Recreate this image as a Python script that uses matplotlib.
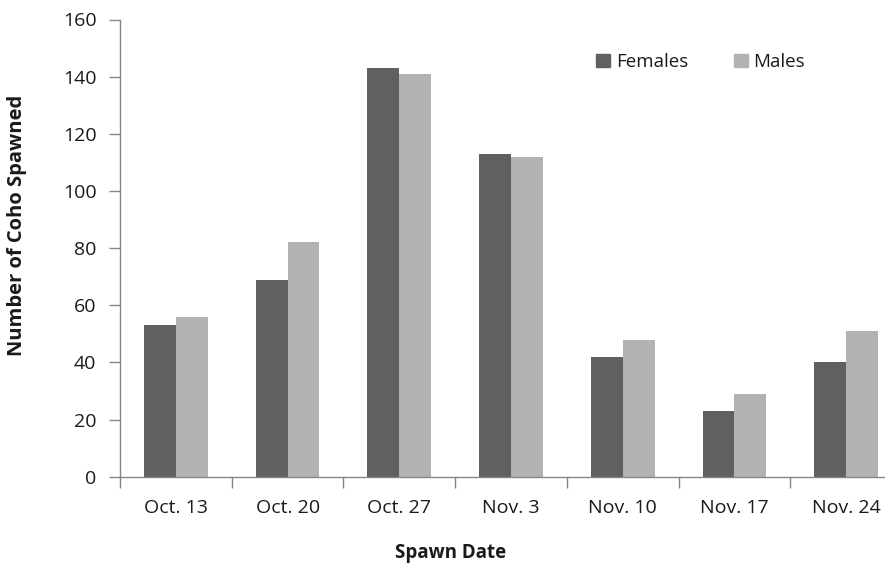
import numpy as np
import matplotlib.pyplot as plt
from matplotlib.patches import Patch

# Coho spawned per date, by sex
dates = ['Oct. 13', 'Oct. 20', 'Oct. 27', 'Nov. 3', 'Nov. 10', 'Nov. 17', 'Nov. 24']
females = [53, 69, 143, 113, 42, 23, 40]
males = [56, 82, 141, 112, 48, 29, 51]

col_f = '#606060'
col_m = '#b2b2b2'
col_ax = '#868686'
col_txt = '#1a1a1a'

plt.rcParams['font.family'] = ['Open Sans', 'DejaVu Sans']

fig = plt.figure(figsize=(8.85, 5.71), dpi=100)
ax = fig.add_axes([120 / 885, 94.3 / 571, 782 / 885, 457.2 / 571])

x = np.arange(len(dates))
w = 1 / 3.5
ax.bar(x - w / 2, females, width=w, color=col_f, label='Females')
ax.bar(x + w / 2, males, width=w, color=col_m, label='Males')

ax.set_xlim(-0.5, len(dates) - 0.5)
ax.set_ylim(0, 160)
ax.set_yticks(np.arange(0, 161, 20))
ax.set_xticks(x)
ax.set_xticklabels(dates)
ax.set_xticks(np.arange(-0.5, len(dates), 1), minor=True)
ax.tick_params(axis='x', which='major', length=0, pad=16, labelsize=14, labelcolor=col_txt)
ax.tick_params(axis='x', which='minor', length=8, color=col_ax, width=1)
ax.tick_params(axis='y', length=8, color=col_ax, width=1, pad=9, labelsize=14, labelcolor=col_txt)

for s in ['top', 'right']:
    ax.spines[s].set_visible(False)
for s in ['left', 'bottom']:
    ax.spines[s].set_color(col_ax)
    ax.spines[s].set_linewidth(1)

fig.text(17 / 885, 1 - 225 / 571, 'Number of Coho Spawned', rotation=90,
         ha='center', va='center', fontsize=14.5, fontweight='bold', color=col_txt)
fig.text(451 / 885, 1 - 553 / 571, 'Spawn Date',
         ha='center', va='center', fontsize=13.5, fontweight='bold', color=col_txt)

handles = [Patch(color=col_f, label='Females'), Patch(color=col_m, label='Males')]
fig.legend(handles=handles, loc='center left', bbox_to_anchor=(596 / 885, 1 - 62 / 571),
           ncol=2, frameon=False, fontsize=13.5, handlelength=0.75, handleheight=0.75,
           handletextpad=0.3, columnspacing=2.45, borderpad=0, borderaxespad=0,
           labelcolor=col_txt)

fig.savefig('out.png', dpi=100)
